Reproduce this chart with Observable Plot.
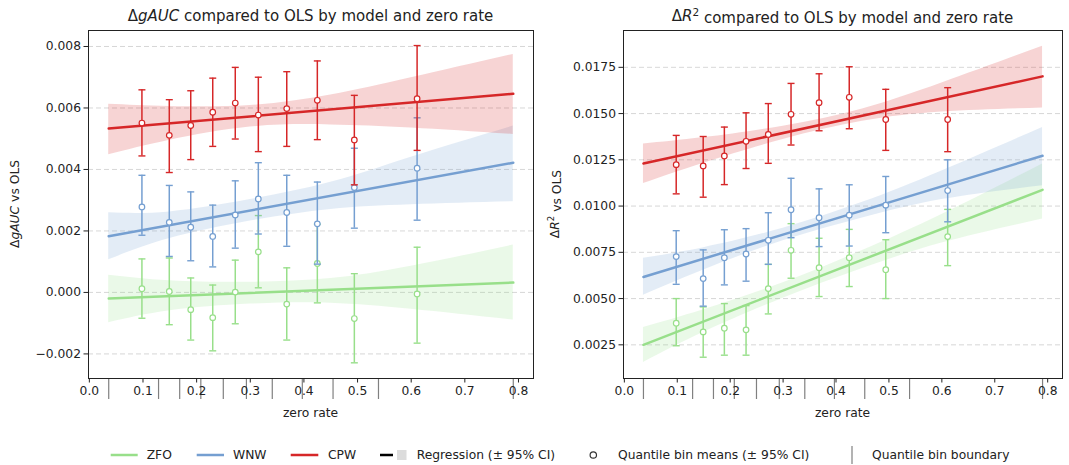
<!DOCTYPE html>
<html><head><meta charset="utf-8">
<script src="https://cdn.jsdelivr.net/npm/d3@7"></script>
<script src="https://cdn.jsdelivr.net/npm/@observablehq/plot@0.6"></script>
<style>
body{margin:0;background:#fff;font-family:"DejaVu Sans",sans-serif;}
#wrap{position:relative;width:1069px;height:465px;background:#fff;overflow:hidden}
#left{position:absolute;left:0;top:0}
#right{position:absolute;left:540px;top:0}
#legend{position:absolute;left:0;top:430px}
</style></head><body>
<div id="wrap"><div id="left"></div><div id="right"></div><div id="legend"></div></div>
<script>
// ---------- data ----------
const models = ["ZFO", "WNW", "CPW"];
const colors = ["#98df8a", "#759fd1", "#d62728"];
const xTicks = [0, 0.1, 0.2, 0.3, 0.4, 0.5, 0.6, 0.7, 0.8];
const binMeansX = [0.098, 0.149, 0.189, 0.230, 0.272, 0.315, 0.368, 0.425, 0.494, 0.611];
const binBoundaries = [0.0361, 0.1290, 0.1684, 0.2078, 0.2497, 0.2928, 0.3410, 0.3970, 0.4543, 0.5390, 0.7903];
const lineX = [0.0361, 0.7903];
const bandX = [0.0361, 0.15, 0.3, 0.45, 0.6, 0.7903];

// Delta gAUC panel
const gaucTicks = [-0.002, 0, 0.002, 0.004, 0.006, 0.008];
const gaucMean_ZFO = [0.00012, 0.00003, -0.00056, -0.00082, 0.00001, 0.00132, -0.00038, 0.00094, -0.00085, -0.00005];
const gaucLo_ZFO   = [-0.00084, -0.00105, -0.00155, -0.00190, -0.00102, 0.00015, -0.00155, -0.00034, -0.00229, -0.00165];
const gaucHi_ZFO   = [0.00109, 0.00112, 0.00047, 0.00024, 0.00105, 0.00250, 0.00080, 0.00222, 0.00061, 0.00147];
const gaucMean_WNW = [0.00278, 0.00228, 0.00212, 0.00182, 0.00252, 0.00304, 0.00260, 0.00223, 0.00341, 0.00404];
const gaucLo_WNW   = [0.00186, 0.00117, 0.00103, 0.00083, 0.00144, 0.00190, 0.00150, 0.00092, 0.00209, 0.00235];
const gaucHi_WNW   = [0.00381, 0.00348, 0.00327, 0.00284, 0.00363, 0.00422, 0.00381, 0.00359, 0.00469, 0.00568];
const gaucMean_CPW = [0.00551, 0.00511, 0.00543, 0.00586, 0.00616, 0.00577, 0.00598, 0.00625, 0.00496, 0.00630];
const gaucLo_CPW   = [0.00444, 0.00390, 0.00432, 0.00475, 0.00499, 0.00458, 0.00475, 0.00497, 0.00350, 0.00462];
const gaucHi_CPW   = [0.00659, 0.00627, 0.00656, 0.00697, 0.00732, 0.00700, 0.00718, 0.00753, 0.00641, 0.00803];
const gaucLine_ZFO = [-0.00020, 0.00032];
const gaucLine_WNW = [0.00183, 0.00422];
const gaucLine_CPW = [0.00533, 0.00646];
const gaucBandLo_ZFO = [-0.00099, -0.00060, -0.00038, -0.00035, -0.00055, -0.00090];
const gaucBandHi_ZFO = [0.00056, 0.00038, 0.00033, 0.00045, 0.00085, 0.00154];
const gaucBandLo_WNW = [0.00106, 0.00175, 0.00232, 0.00270, 0.00285, 0.00295];
const gaucBandHi_WNW = [0.00259, 0.00262, 0.00302, 0.00358, 0.00440, 0.00541];
const gaucBandLo_CPW = [0.00448, 0.00495, 0.00538, 0.00545, 0.00535, 0.00514];
const gaucBandHi_CPW = [0.00612, 0.00605, 0.00608, 0.00642, 0.00698, 0.00774];

// Delta R^2 panel
const r2Ticks = [0.0025, 0.0050, 0.0075, 0.0100, 0.0125, 0.0150, 0.0175];
const r2Mean_ZFO = [0.00367, 0.00320, 0.00340, 0.00331, 0.00554, 0.00761, 0.00667, 0.00721, 0.00656, 0.00835];
const r2Lo_ZFO   = [0.00245, 0.00183, 0.00194, 0.00194, 0.00417, 0.00610, 0.00511, 0.00565, 0.00500, 0.00678];
const r2Hi_ZFO   = [0.00500, 0.00455, 0.00473, 0.00462, 0.00685, 0.00905, 0.00826, 0.00874, 0.00818, 0.00982];
const r2Mean_WNW = [0.00727, 0.00608, 0.00721, 0.00741, 0.00815, 0.00980, 0.00937, 0.00951, 0.01005, 0.01084];
const r2Lo_WNW   = [0.00577, 0.00459, 0.00574, 0.00594, 0.00685, 0.00829, 0.00781, 0.00784, 0.00856, 0.00915];
const r2Hi_WNW   = [0.00867, 0.00763, 0.00872, 0.00878, 0.00964, 0.01150, 0.01093, 0.01115, 0.01160, 0.01250];
const r2Mean_CPW = [0.01224, 0.01217, 0.01271, 0.01350, 0.01387, 0.01496, 0.01559, 0.01588, 0.01468, 0.01468];
const r2Lo_CPW   = [0.01066, 0.01048, 0.01116, 0.01203, 0.01231, 0.01330, 0.01407, 0.01418, 0.01301, 0.01294];
const r2Hi_CPW   = [0.01382, 0.01376, 0.01427, 0.01504, 0.01554, 0.01663, 0.01715, 0.01753, 0.01631, 0.01640];
const r2Line_ZFO = [0.00250, 0.01088];
const r2Line_WNW = [0.00617, 0.01272];
const r2Line_CPW = [0.01230, 0.01701];
const r2BandLo_ZFO = [0.00155, 0.00318, 0.00502, 0.00662, 0.00800, 0.00930];
const r2BandHi_ZFO = [0.00344, 0.00440, 0.00585, 0.00760, 0.00955, 0.01228];
const r2BandLo_WNW = [0.00518, 0.00655, 0.00812, 0.00935, 0.01035, 0.01110];
const r2BandHi_WNW = [0.00718, 0.00775, 0.00880, 0.01020, 0.01190, 0.01425];
const r2BandLo_CPW = [0.01122, 0.01232, 0.01360, 0.01458, 0.01508, 0.01530];
const r2BandHi_CPW = [0.01335, 0.01370, 0.01432, 0.01525, 0.01665, 0.01864];

// ---------- build ----------
const capSymbol = {draw(ctx) { ctx.moveTo(-3.5, 0); ctx.lineTo(3.5, 0); }};

function panel(cfg) {
  const marks = [
    Plot.gridY(cfg.ticks, {stroke: "#b8b8b8", strokeOpacity: 0.7, strokeWidth: 0.8, strokeDasharray: "5,3"})
  ];
  models.forEach((m, i) => {
    const c = colors[i];
    const band = bandX.map((x, j) => ({x, lo: cfg.bandLo[m][j], hi: cfg.bandHi[m][j]}));
    const line = lineX.map((x, j) => ({x, y: cfg.line[m][j]}));
    const pts = binMeansX.map((x, j) => ({x, mean: cfg.mean[m][j], lo: cfg.lo[m][j], hi: cfg.hi[m][j]}));
    marks.push(
      Plot.areaY(band, {x: "x", y1: "lo", y2: "hi", fill: c, fillOpacity: 0.2, curve: "natural"}),
      Plot.line(line, {x: "x", y: "y", stroke: c, strokeWidth: 2.5}),
      Plot.ruleX(pts, {x: "x", y1: "lo", y2: "hi", stroke: c, strokeWidth: 1.5}),
      Plot.dot(pts, {x: "x", y: "lo", symbol: capSymbol, stroke: c, strokeWidth: 1.4, fill: "none"}),
      Plot.dot(pts, {x: "x", y: "hi", symbol: capSymbol, stroke: c, strokeWidth: 1.4, fill: "none"}),
      Plot.dot(pts, {x: "x", y: "mean", r: 2.8, fill: "white", stroke: c, strokeWidth: 1.2})
    );
  });
  marks.push(
    Plot.ruleX(binBoundaries, {x: d => d, y1: cfg.domain[0], y2: cfg.domain[0], insetBottom: -21, stroke: "#808080", strokeWidth: 1.2}),
    Plot.frame({stroke: "#222", strokeWidth: 1}),
    Plot.axisY(cfg.ticks, {tickFormat: cfg.fmt, tickSize: 4.5, tickPadding: 3, label: null, fontSize: 12.3}),
    Plot.axisX(xTicks, {tickFormat: d3.format(".1f"), tickSize: 4.5, tickPadding: 3, label: null, fontSize: 12.3})
  );
  return Plot.plot({
    width: cfg.width, height: 430,
    marginLeft: cfg.ml, marginRight: cfg.mr, marginTop: 30, marginBottom: 52,
    x: {domain: [-0.0016, 0.828]},
    y: {domain: cfg.domain},
    style: {fontFamily: "DejaVu Sans", fontSize: "12px", color: "#222", background: "white", overflow: "visible"},
    marks
  });
}

const gauc = panel({
  width: 540, ml: 88, mr: 7, domain: [-0.0028, 0.00852], ticks: gaucTicks, fmt: d3.format(".3f"),
  mean: {ZFO: gaucMean_ZFO, WNW: gaucMean_WNW, CPW: gaucMean_CPW},
  lo: {ZFO: gaucLo_ZFO, WNW: gaucLo_WNW, CPW: gaucLo_CPW},
  hi: {ZFO: gaucHi_ZFO, WNW: gaucHi_WNW, CPW: gaucHi_CPW},
  line: {ZFO: gaucLine_ZFO, WNW: gaucLine_WNW, CPW: gaucLine_CPW},
  bandLo: {ZFO: gaucBandLo_ZFO, WNW: gaucBandLo_WNW, CPW: gaucBandLo_CPW},
  bandHi: {ZFO: gaucBandHi_ZFO, WNW: gaucBandHi_WNW, CPW: gaucBandHi_CPW}
});
const r2 = panel({
  width: 529, ml: 83, mr: 7, domain: [0.00068, 0.01949], ticks: r2Ticks, fmt: d3.format(".4f"),
  mean: {ZFO: r2Mean_ZFO, WNW: r2Mean_WNW, CPW: r2Mean_CPW},
  lo: {ZFO: r2Lo_ZFO, WNW: r2Lo_WNW, CPW: r2Lo_CPW},
  hi: {ZFO: r2Hi_ZFO, WNW: r2Hi_WNW, CPW: r2Hi_CPW},
  line: {ZFO: r2Line_ZFO, WNW: r2Line_WNW, CPW: r2Line_CPW},
  bandLo: {ZFO: r2BandLo_ZFO, WNW: r2BandLo_WNW, CPW: r2BandLo_CPW},
  bandHi: {ZFO: r2BandHi_ZFO, WNW: r2BandHi_WNW, CPW: r2BandHi_CPW}
});
document.getElementById("left").appendChild(gauc);
document.getElementById("right").appendChild(r2);

// titles and axis labels with math-style italics
function addTexts(svgEl, cx, titleParts, ylabParts) {
  const svg = d3.select(svgEl);
  const t = svg.append("text").attr("x", cx).attr("y", 21).attr("text-anchor", "middle")
    .attr("font-size", 15).attr("fill", "#222").attr("font-family", "DejaVu Sans");
  titleParts.forEach(p => {
    const s = t.append("tspan").text(p.t);
    if (p.i) s.attr("font-style", "italic");
    if (p.sup) s.attr("dy", "-0.45em").attr("font-size", "0.7em");
    if (p.after) s.attr("dy", "0.45em");
  });
  const y = svg.append("text").attr("transform", `translate(15,204) rotate(-90)`)
    .attr("text-anchor", "middle").attr("dominant-baseline", "middle")
    .attr("font-size", 12.3).attr("fill", "#222").attr("font-family", "DejaVu Sans");
  ylabParts.forEach(p => {
    const s = y.append("tspan").text(p.t);
    if (p.i) s.attr("font-style", "italic");
    if (p.sup) s.attr("dy", "-0.45em").attr("font-size", "0.7em");
    if (p.after) s.attr("dy", "0.45em");
  });
  svg.append("text").attr("x", cx).attr("y", 417).attr("text-anchor", "middle")
    .attr("font-size", 12.3).attr("fill", "#222").attr("font-family", "DejaVu Sans").text("zero rate");
}
addTexts(gauc, (88 + 533) / 2,
  [{t: "Δ"}, {t: "gAUC", i: true}, {t: " compared to OLS by model and zero rate"}],
  [{t: "Δ"}, {t: "gAUC", i: true}, {t: " vs OLS"}]);
addTexts(r2, (83 + 522) / 2,
  [{t: "Δ"}, {t: "R", i: true}, {t: "2", sup: true}, {t: " compared to OLS by model and zero rate", after: true}],
  [{t: "Δ"}, {t: "R", i: true}, {t: "2", sup: true}, {t: " vs OLS", after: true}]);

// legend
const lg = d3.select("#legend").append("svg").attr("width", 1069).attr("height", 35)
  .attr("font-family", "DejaVu Sans").attr("font-size", 12.3);
const ly = 25;
const seriesLeg = [
  {x1: 110.7, x2: 137.7, tx: 146.7, c: colors[0], t: "ZFO"},
  {x1: 196.7, x2: 224, tx: 233, c: colors[1], t: "WNW"},
  {x1: 290.7, x2: 318.3, tx: 328, c: colors[2], t: "CPW"}
];
seriesLeg.forEach(s => {
  lg.append("line").attr("x1", s.x1).attr("x2", s.x2).attr("y1", ly).attr("y2", ly).attr("stroke", s.c).attr("stroke-width", 2.5);
  lg.append("text").attr("x", s.tx).attr("y", ly).attr("dy", "0.35em").attr("fill", "#222").text(s.t);
});
lg.append("line").attr("x1", 380).attr("x2", 393).attr("y1", ly).attr("y2", ly).attr("stroke", "#000").attr("stroke-width", 2.5);
lg.append("rect").attr("x", 397).attr("y", ly - 5).attr("width", 9.5).attr("height", 10).attr("fill", "#dcdcdc");
lg.append("text").attr("x", 416.7).attr("y", ly).attr("dy", "0.35em").attr("fill", "#222").text("Regression (± 95% CI)");
lg.append("circle").attr("cx", 593.3).attr("cy", ly).attr("r", 3.2).attr("fill", "white").attr("stroke", "#333").attr("stroke-width", 1.2);
lg.append("text").attr("x", 618).attr("y", ly).attr("dy", "0.35em").attr("fill", "#222").text("Quantile bin means (± 95% CI)");
lg.append("line").attr("x1", 852).attr("x2", 852).attr("y1", ly - 9).attr("y2", ly + 9).attr("stroke", "#808080").attr("stroke-width", 1.2);
lg.append("text").attr("x", 872).attr("y", ly).attr("dy", "0.35em").attr("fill", "#222").text("Quantile bin boundary");
</script>
</body></html>
